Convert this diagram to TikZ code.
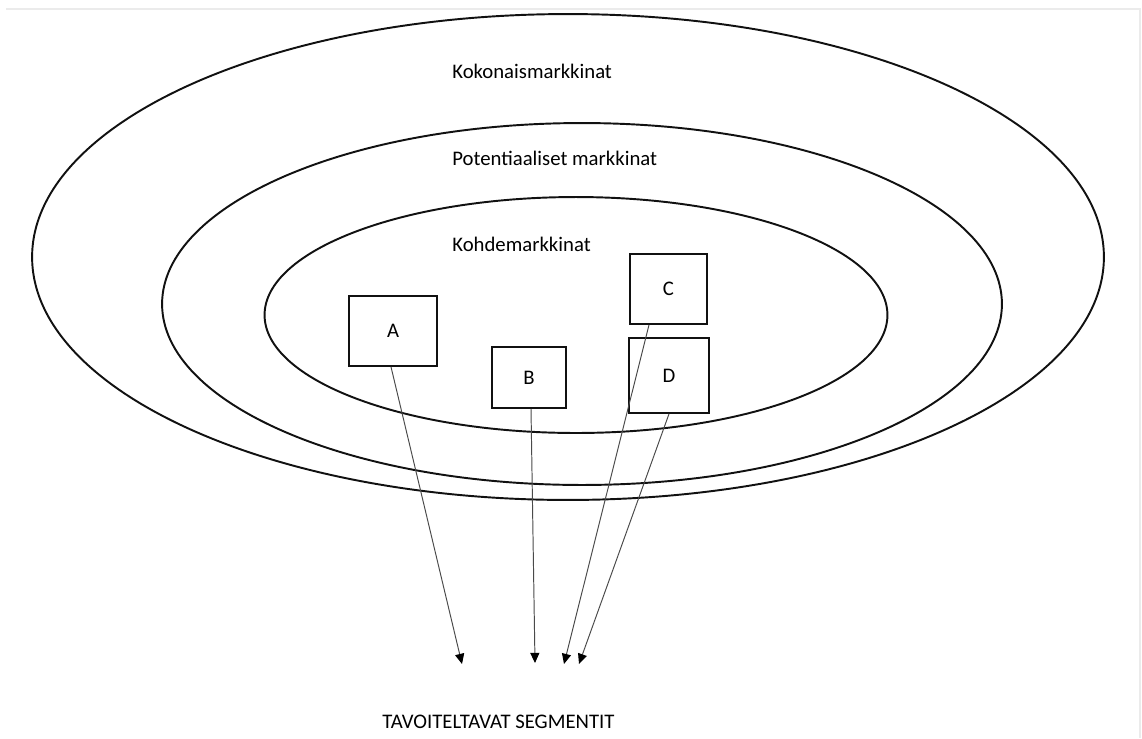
\documentclass[tikz,border=0pt]{standalone}
\usepackage{fontspec}
\setmainfont{Carlito}
\usetikzlibrary{arrows.meta,positioning}
\definecolor{inkblack}{HTML}{111111}
\definecolor{leadgray}{HTML}{4A4A4A}
\definecolor{framegray}{HTML}{EBEBEB}
\tikzset{
  ring/.style={draw=inkblack, line width=1.1pt},
  segbox/.style={draw=inkblack, fill=white, line width=1.0pt, inner sep=0pt,
    font=\fontsize{11.8}{14}\selectfont},
  marklbl/.style={anchor=base west, inner sep=0pt, font=\fontsize{11.8}{14}\selectfont},
  pick/.style={-{Triangle[length=5.8pt, width=5.2pt, color=black]}, line width=0.55pt,
    color=leadgray},
}

\begin{document}
\begin{tikzpicture}[x=0.02cm, y=-0.02cm]
  \useasboundingbox (0,0) rectangle (1142,738);
  % faint screenshot frame
  \draw[framegray, line width=0.6pt] (6,9) -- (1140,9) -- (1140,738);
  % the three markets, outer to inner
  \draw[ring] (568,257) ellipse [x radius=10.72cm, y radius=4.86cm];
  \draw[ring] (582,304) ellipse [x radius=8.40cm, y radius=3.62cm];
  \draw[ring] (576,315) ellipse [x radius=6.23cm, y radius=2.36cm];
  \node[marklbl] (koko) at (452,78) {Kokonaismarkkinat};
  \node[marklbl] (pot) at (452,165) {Potentiaaliset markkinat};
  \node[marklbl] (kohde) at (452,251) {Kohdemarkkinat};
  % segments
  \node[segbox, minimum width=1.76cm, minimum height=1.40cm] (A) at (393,331) {A};
  \node[segbox, minimum width=1.48cm, minimum height=1.22cm] (B) at (529,377.5) {B};
  \node[segbox, minimum width=1.54cm, minimum height=1.40cm] (C) at (668.5,289) {C};
  \node[segbox, minimum width=1.60cm, minimum height=1.50cm] (D) at (669,375.5) {D};
  % where the arrows land
  \coordinate (tipA) at (462,664);
  \coordinate (tipB) at (535,663);
  \coordinate (tipC) at (564,664);
  \coordinate (tipD) at (579,664);
  \draw[pick] ([xshift=-0.04cm]A.south) -- (tipA);
  \draw[pick] ([xshift=0.04cm]B.south) -- (tipB);
  \draw[pick] ([xshift=-0.39cm]C.south) -- (tipC);
  \draw[pick] (D.south) -- (tipD);
  \node[marklbl] (target) at (382,728) {TAVOITELTAVAT SEGMENTIT};
\end{tikzpicture}
\end{document}
